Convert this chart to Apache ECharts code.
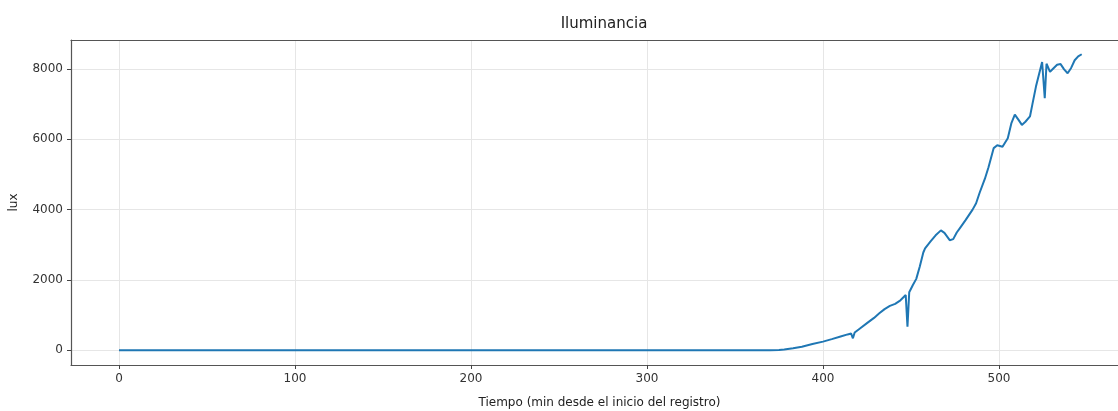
<!DOCTYPE html>
<html>
<head>
<meta charset="utf-8">
<script src="https://cdn.jsdelivr.net/npm/echarts@6/dist/echarts.min.js"></script>
<style>
  html, body { margin: 0; padding: 0; background: #fff; }
  #chart { width: 1118px; height: 411px; }
</style>
</head>
<body>
<div id="chart"></div>
<script>
// Minutes since the start of the log
const tiempo = [
  0, 50, 100, 150, 200, 250, 290, 291, 292, 330, 370, 375,
  378, 383, 388, 394, 400, 405, 410, 414, 416, 417, 418, 421, 425, 429,
  432, 435, 438, 441, 444, 447, 448, 449, 451, 453, 455, 457, 458, 461,
  464, 467, 469, 472, 474, 476, 478, 481, 482, 485, 487, 489, 492, 494,
  497, 499, 502, 505, 507, 509, 511, 513, 515, 517.6, 519, 521, 523, 524.5,
  525, 526, 527, 529, 531, 533, 535, 537, 539, 541, 543, 545, 547
];

// Illuminance readings (lux)
const lux = [
  0, 0, 0, 0, 0, 0, 0, 20, 0, 0, 2, 8,
  20, 55, 100, 175, 245, 315, 390, 450, 475, 340, 505, 620, 770, 920,
  1050, 1170, 1260, 1320, 1420, 1570, 670, 1650, 1850, 2030, 2380, 2780, 2900, 3090,
  3270, 3410, 3340, 3130, 3160, 3350, 3490, 3700, 3660, 4000, 4180, 4480, 4880, 5200,
  5750, 5830, 5790, 6030, 6450, 6700, 6560, 6410, 6500, 6650, 7000, 7500, 7900, 8200,
  8250, 7170, 8150, 7920, 8020, 8120, 8140, 7990, 7880, 8030, 8250, 8360, 8420
];

const xTicks = [0, 100, 200, 300, 400, 500];
const yTicks = [0, 2000, 4000, 6000, 8000];

const FONT = 'DejaVu Sans';
const SPINE = { color: '#555', width: 1.2 };
const points = tiempo.map((t, i) => [t, lux[i]]);

const chart = echarts.init(document.getElementById('chart'), null, { renderer: 'canvas' });
chart.setOption({
  animation: false,
  backgroundColor: '#ffffff',
  title: {
    text: 'Iluminancia',
    left: 599, top: 12,
    textAlign: 'center',
    textStyle: { fontFamily: FONT, fontSize: 15, fontWeight: 'normal', color: '#222' }
  },
  grid: {
    left: 71, right: -10, top: 40, bottom: 46,
    outerBoundsMode: 'none',
    containLabel: false,
    show: false
  },
  xAxis: [{
    type: 'value',
    position: 'bottom',
    min: -27.27, max: 573.3,
    name: 'Tiempo (min desde el inicio del registro)',
    nameLocation: 'middle', nameGap: 32,
    nameTextStyle: { fontFamily: FONT, fontSize: 12, color: '#222' },
    axisLine: { show: true, onZero: false, lineStyle: SPINE },
    axisTick: { show: true, customValues: xTicks, length: 4, lineStyle: { color: '#444', width: 1 } },
    axisLabel: {
      customValues: xTicks, fontFamily: FONT, fontSize: 12, color: '#333', margin: 8,
      formatter: v => String(v)
    },
    splitLine: { show: true, lineStyle: { color: '#e6e6e6', width: 1 } }
  }, {
    // top spine of the frame
    type: 'value',
    position: 'top',
    min: -27.27, max: 573.3,
    axisLine: { show: true, onZero: false, lineStyle: SPINE },
    axisTick: { show: false },
    axisLabel: { show: false },
    splitLine: { show: false }
  }],
  yAxis: {
    type: 'value',
    min: -420, max: 8825,
    name: 'lux',
    nameLocation: 'middle', nameGap: 51, nameRotate: 90,
    nameTextStyle: { fontFamily: FONT, fontSize: 12, color: '#222' },
    axisLine: { show: true, onZero: false, lineStyle: SPINE },
    axisTick: { show: true, customValues: yTicks, length: 4, lineStyle: { color: '#444', width: 1 } },
    axisLabel: {
      customValues: yTicks, fontFamily: FONT, fontSize: 12, color: '#333', margin: 8,
      formatter: v => String(v)
    },
    splitLine: { show: true, lineStyle: { color: '#e6e6e6', width: 1 } }
  },
  series: [{
    type: 'line',
    xAxisIndex: 0,
    data: points,
    showSymbol: false,
    smooth: false,
    clip: true,
    lineStyle: { color: '#1f77b4', width: 2 },
    itemStyle: { color: '#1f77b4' }
  }]
});
</script>
</body>
</html>
